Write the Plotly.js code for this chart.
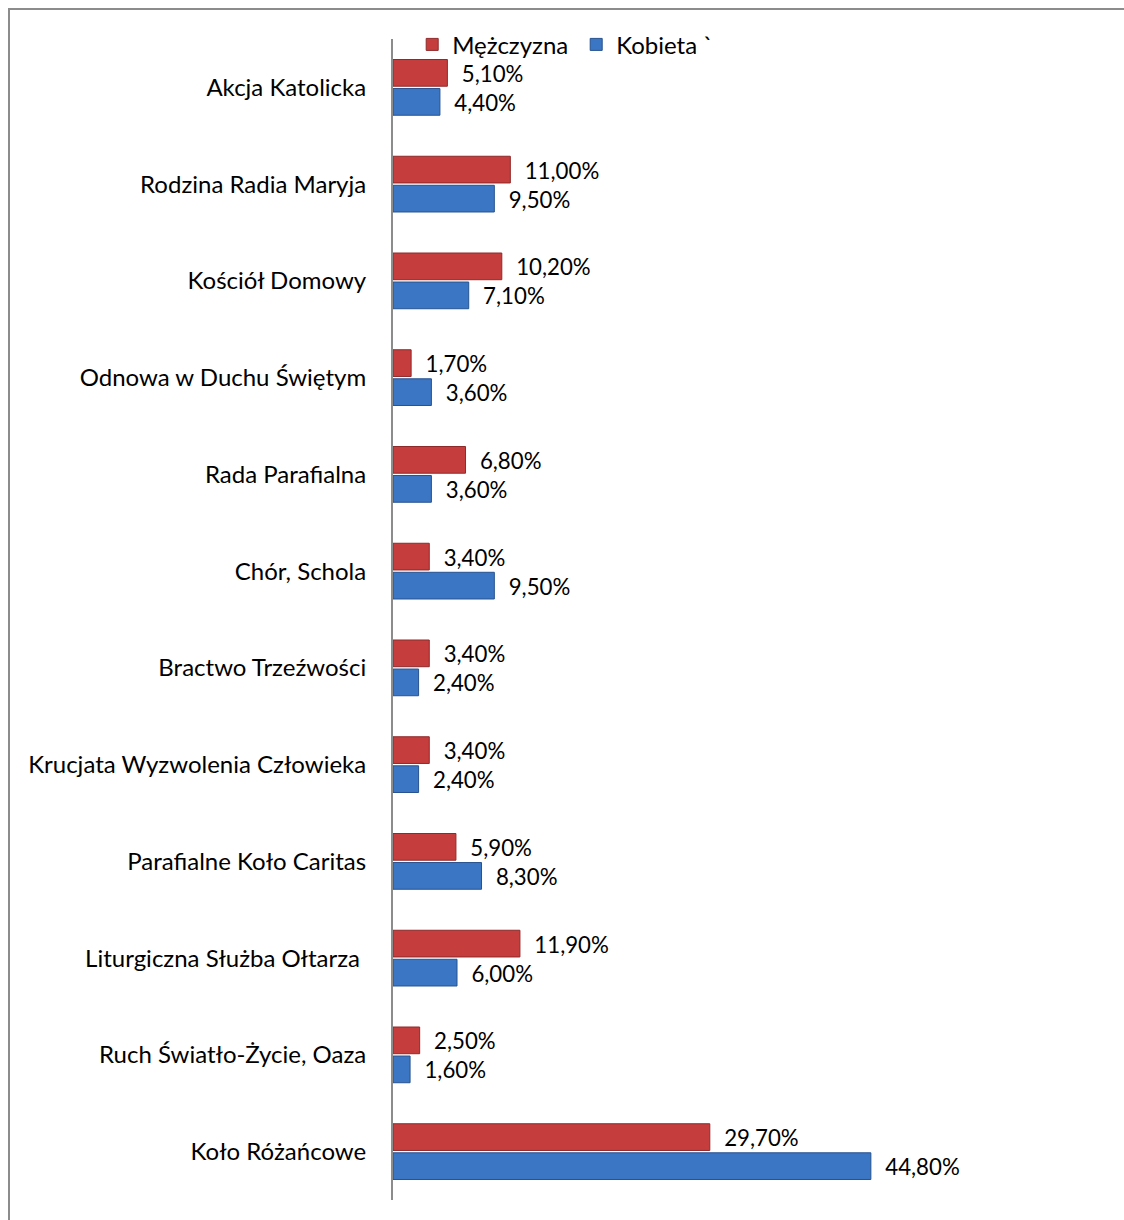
<!DOCTYPE html>
<html>
<head>
<meta charset="utf-8">
<script src="https://cdn.plot.ly/plotly-3.0.1.min.js"></script>
<style>
  html, body { margin: 0; padding: 0; background: #fff; overflow: hidden; }
  #chart { position: absolute; left: 0; top: 0; width: 1124px; height: 1220px; }
  #frame { position: absolute; left: 8px; top: 8px; width: 1140px; height: 1240px;
           border: 2px solid #8c8c8c; pointer-events: none; box-sizing: border-box; }
</style>
</head>
<body>
<div id="chart"></div>
<div id="frame"></div>
<script>
const categories = [
  "Akcja Katolicka",
  "Rodzina Radia Maryja",
  "Kościół Domowy",
  "Odnowa w Duchu Świętym",
  "Rada Parafialna",
  "Chór, Schola",
  "Bractwo Trzeźwości",
  "Krucjata Wyzwolenia Człowieka",
  "Parafialne Koło Caritas",
  "Liturgiczna Służba Ołtarza\u00a0",
  "Ruch Światło-Życie, Oaza",
  "Koło Różańcowe"
];
const men =   [5.1, 11.0, 10.2, 1.7, 6.8, 3.4, 3.4, 3.4, 5.9, 11.9, 2.5, 29.7];
const women = [4.4,  9.5,  7.1, 3.6, 3.6, 9.5, 2.4, 2.4, 8.3,  6.0, 1.6, 44.8];
const seriesNames = ["Mężczyzna", "Kobieta `"];

const fmt = v => "\u00a0\u00a0" + v.toFixed(2).replace(".", ",") + "%";
const FONT = "Lato, 'Open Sans', sans-serif";
const FS = 24;
const VFS = 25;

const traces = [
  {
    type: "bar", orientation: "h", name: seriesNames[0],
    y: categories, x: men,
    text: men.map(fmt), textposition: "outside", cliponaxis: false,
    textfont: { family: FONT, size: VFS, color: "#000" },
    marker: { color: "#c63d3d", line: { color: "#8e2a2a", width: 1 } },
    hoverinfo: "skip"
  },
  {
    type: "bar", orientation: "h", name: seriesNames[1],
    y: categories, x: women,
    text: women.map(fmt), textposition: "outside", cliponaxis: false,
    textfont: { family: FONT, size: VFS, color: "#000" },
    marker: { color: "#3b76c4", line: { color: "#27528f", width: 1 } },
    hoverinfo: "skip"
  }
];

const layout = {
  width: 1124, height: 1220,
  margin: { l: 393, r: 91, t: 39, b: 20 },
  paper_bgcolor: "#fff", plot_bgcolor: "#fff",
  barmode: "group", bargap: 0.4, bargroupgap: 0.08,
  font: { family: FONT, size: FS, color: "#000" },
  showlegend: true,
  legend: {
    orientation: "h", x: 0.03, xanchor: "left", y: 0.995, yanchor: "middle",
    bgcolor: "rgba(0,0,0,0)", font: { family: FONT, size: FS, color: "#000" },
    itemwidth: 30, tracegroupgap: 0, entrywidth: 119
  },
  xaxis: {
    range: [0, 60], showgrid: false, zeroline: false, showline: false,
    showticklabels: false, ticks: ""
  },
  yaxis: {
    autorange: "reversed", showgrid: false, zeroline: false,
    showline: true, linecolor: "#8c8c8c", linewidth: 2,
    ticks: "", ticklabelstandoff: 20,
    tickfont: { family: FONT, size: FS, color: "#000" }
  }
};

Plotly.newPlot("chart", traces, layout, { staticPlot: true, displayModeBar: false });
</script>
</body>
</html>
